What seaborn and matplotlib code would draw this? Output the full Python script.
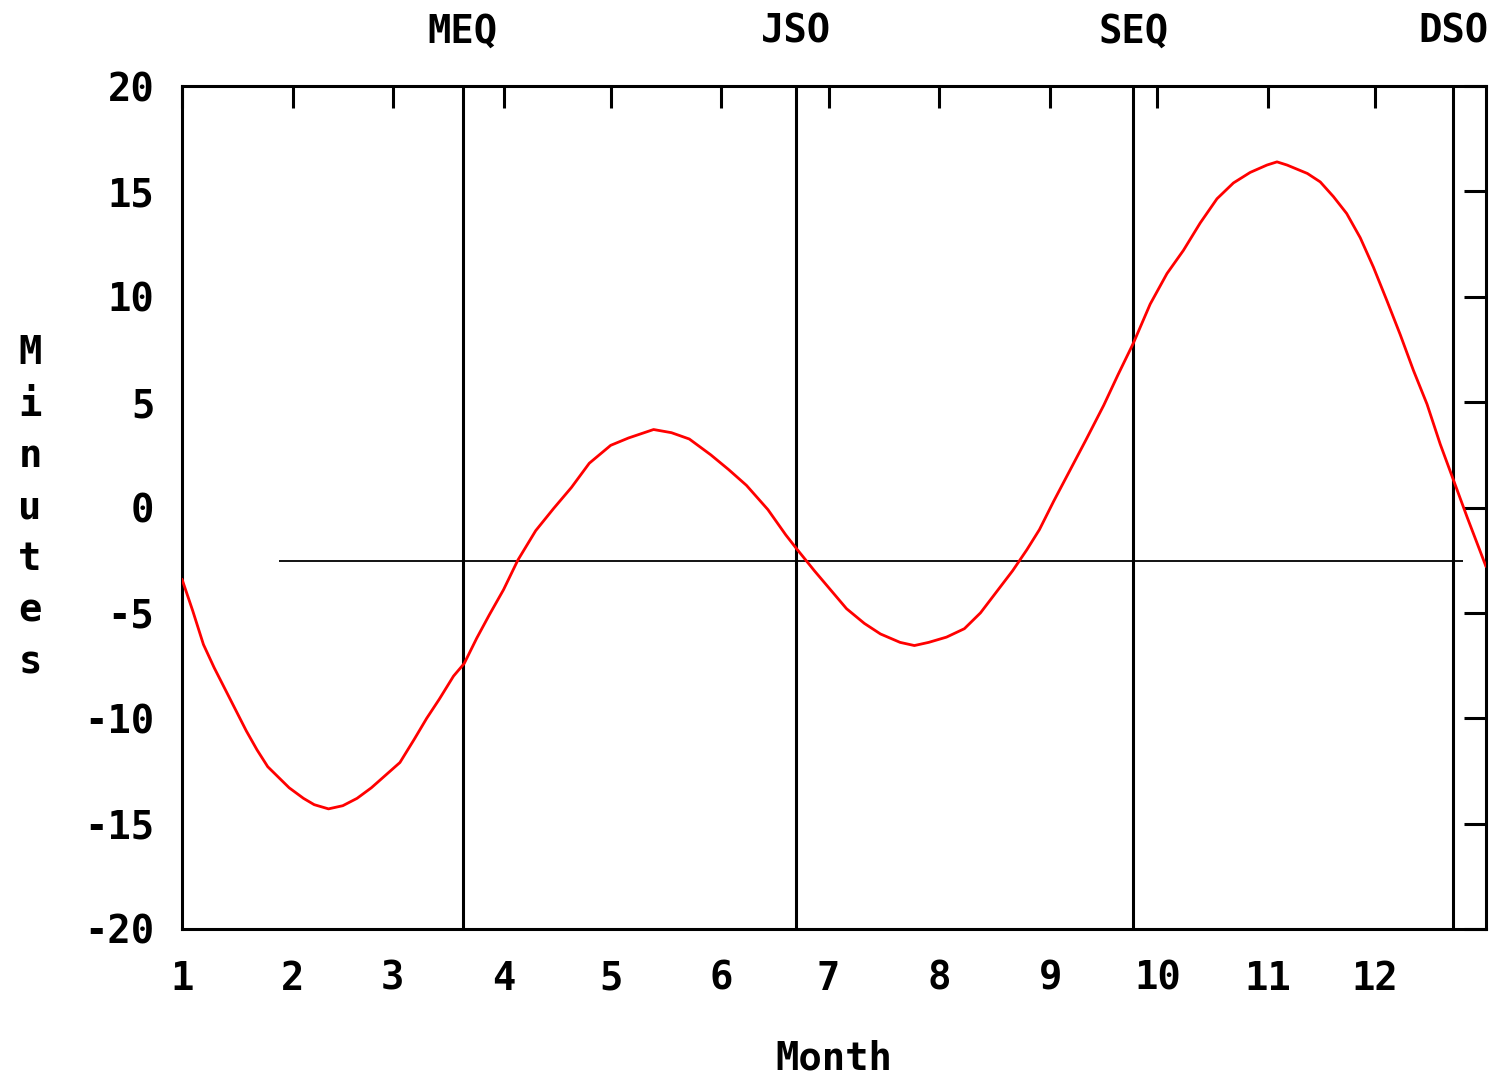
import numpy as np
import pandas as pd
import matplotlib
matplotlib.use("Agg")
import matplotlib.pyplot as plt
import seaborn as sns

# day of year (0 = Jan 1) and equation of time in minutes
day = [0, 3, 6, 9, 12, 15, 18, 21, 24, 27, 30, 34, 37, 41, 45, 49, 53, 57, 61,
       65, 68.5, 72, 76, 79, 82.5, 86, 90, 94, 99, 104, 109, 114, 120, 125, 132,
       137, 142, 148, 153, 158, 164, 169, 172, 177, 181.5, 186, 191, 195.5, 201,
       205, 209, 214, 219, 223.5, 228, 232.5, 236.5, 240, 244, 248.5, 253, 258,
       262, 266.3, 271, 275.7, 280.3, 285, 289.7, 294.3, 299, 303.7, 306.5,
       309.3, 315, 318.6, 322.3, 326, 329.8, 333.5, 337.3, 341, 344.7, 348.5,
       352.2, 355.9, 359.7, 365]
minutes = [-3.4, -4.9, -6.5, -7.6, -8.6, -9.6, -10.6, -11.5, -12.3, -12.8, -13.3,
           -13.8, -14.1, -14.3, -14.15, -13.8, -13.3, -12.7, -12.1, -11.0, -10.0,
           -9.1, -8.0, -7.4, -6.2, -5.1, -3.9, -2.5, -1.1, -0.05, 0.95, 2.1, 2.95,
           3.3, 3.7, 3.55, 3.25, 2.5, 1.8, 1.05, -0.1, -1.3, -1.95, -3.0, -3.9,
           -4.8, -5.5, -6.0, -6.4, -6.55, -6.4, -6.15, -5.75, -5.0, -4.0, -3.0,
           -2.0, -1.05, 0.3, 1.75, 3.2, 4.85, 6.3, 7.8, 9.65, 11.1, 12.2, 13.5,
           14.65, 15.4, 15.9, 16.25, 16.4, 16.25, 15.85, 15.45, 14.75, 13.95,
           12.8, 11.4, 9.8, 8.2, 6.5, 4.9, 3.0, 1.3, -0.45, -2.8]

# month starts (day of year) and their labels
month_start = [0, 31, 59, 90, 120, 151, 181, 212, 243, 273, 304, 334]
month_labels = [str(m) for m in range(1, 13)]

# equinoxes / solstices
event_names = ["MEQ", "JSO", "SEQ", "DSO"]
event_days = [78.6, 171.9, 266.3, 355.9]

# reference level line
ref_level = -2.55
ref_start, ref_end = 27.2, 358.6

yticks = [20, 15, 10, 5, 0, -5, -10, -15, -20]

df = pd.DataFrame({"day": day, "minutes": minutes})

sns.set_style("white")
plt.rcParams["font.family"] = ["DejaVu Sans Mono"]
plt.rcParams["font.weight"] = "bold"
plt.rcParams["text.color"] = "black"
plt.rcParams["axes.labelcolor"] = "black"
plt.rcParams["xtick.color"] = "black"
plt.rcParams["ytick.color"] = "black"

fig = plt.figure(figsize=(14.96, 10.79), dpi=100)
ax = fig.add_axes([182 / 1496, 1 - 929 / 1079, 1304 / 1496, 843 / 1079])

for d in event_days:
    ax.axvline(d, color="black", lw=2.2, zorder=1)
ax.hlines(ref_level, ref_start, ref_end, color="black", lw=1.3, zorder=1)

sns.lineplot(data=df, x="day", y="minutes", color="#ff0000", lw=2.0, ax=ax, zorder=3)

ax.set_xlim(0, 365)
ax.set_ylim(-20, 20)

ax.set_xticks(month_start)
ax.set_xticklabels(month_labels)
ax.set_yticks(yticks)
ax.set_yticklabels([str(v) for v in yticks])

ax.tick_params(axis="both", direction="in", length=16, width=2.2,
               top=True, right=True, labelsize=28, colors="black")
ax.tick_params(axis="x", pad=22)
ax.tick_params(axis="y", pad=20)

for s in ax.spines.values():
    s.set_linewidth(2.2)
    s.set_color("black")

for name, d in zip(event_names, event_days):
    ax.text(d, 1.065, name, transform=ax.get_xaxis_transform(), ha="center",
            va="center", fontsize=28, fontweight="bold")

ax.set_xlabel("Month", fontsize=28, fontweight="bold", labelpad=30)
ax.set_ylabel("\n".join("Minutes"), rotation=0, fontsize=28, fontweight="bold",
              va="center", ha="center", linespacing=1.45)
ax.yaxis.set_label_coords(-0.1166, 0.5)

fig.savefig("out.png", dpi=100)
